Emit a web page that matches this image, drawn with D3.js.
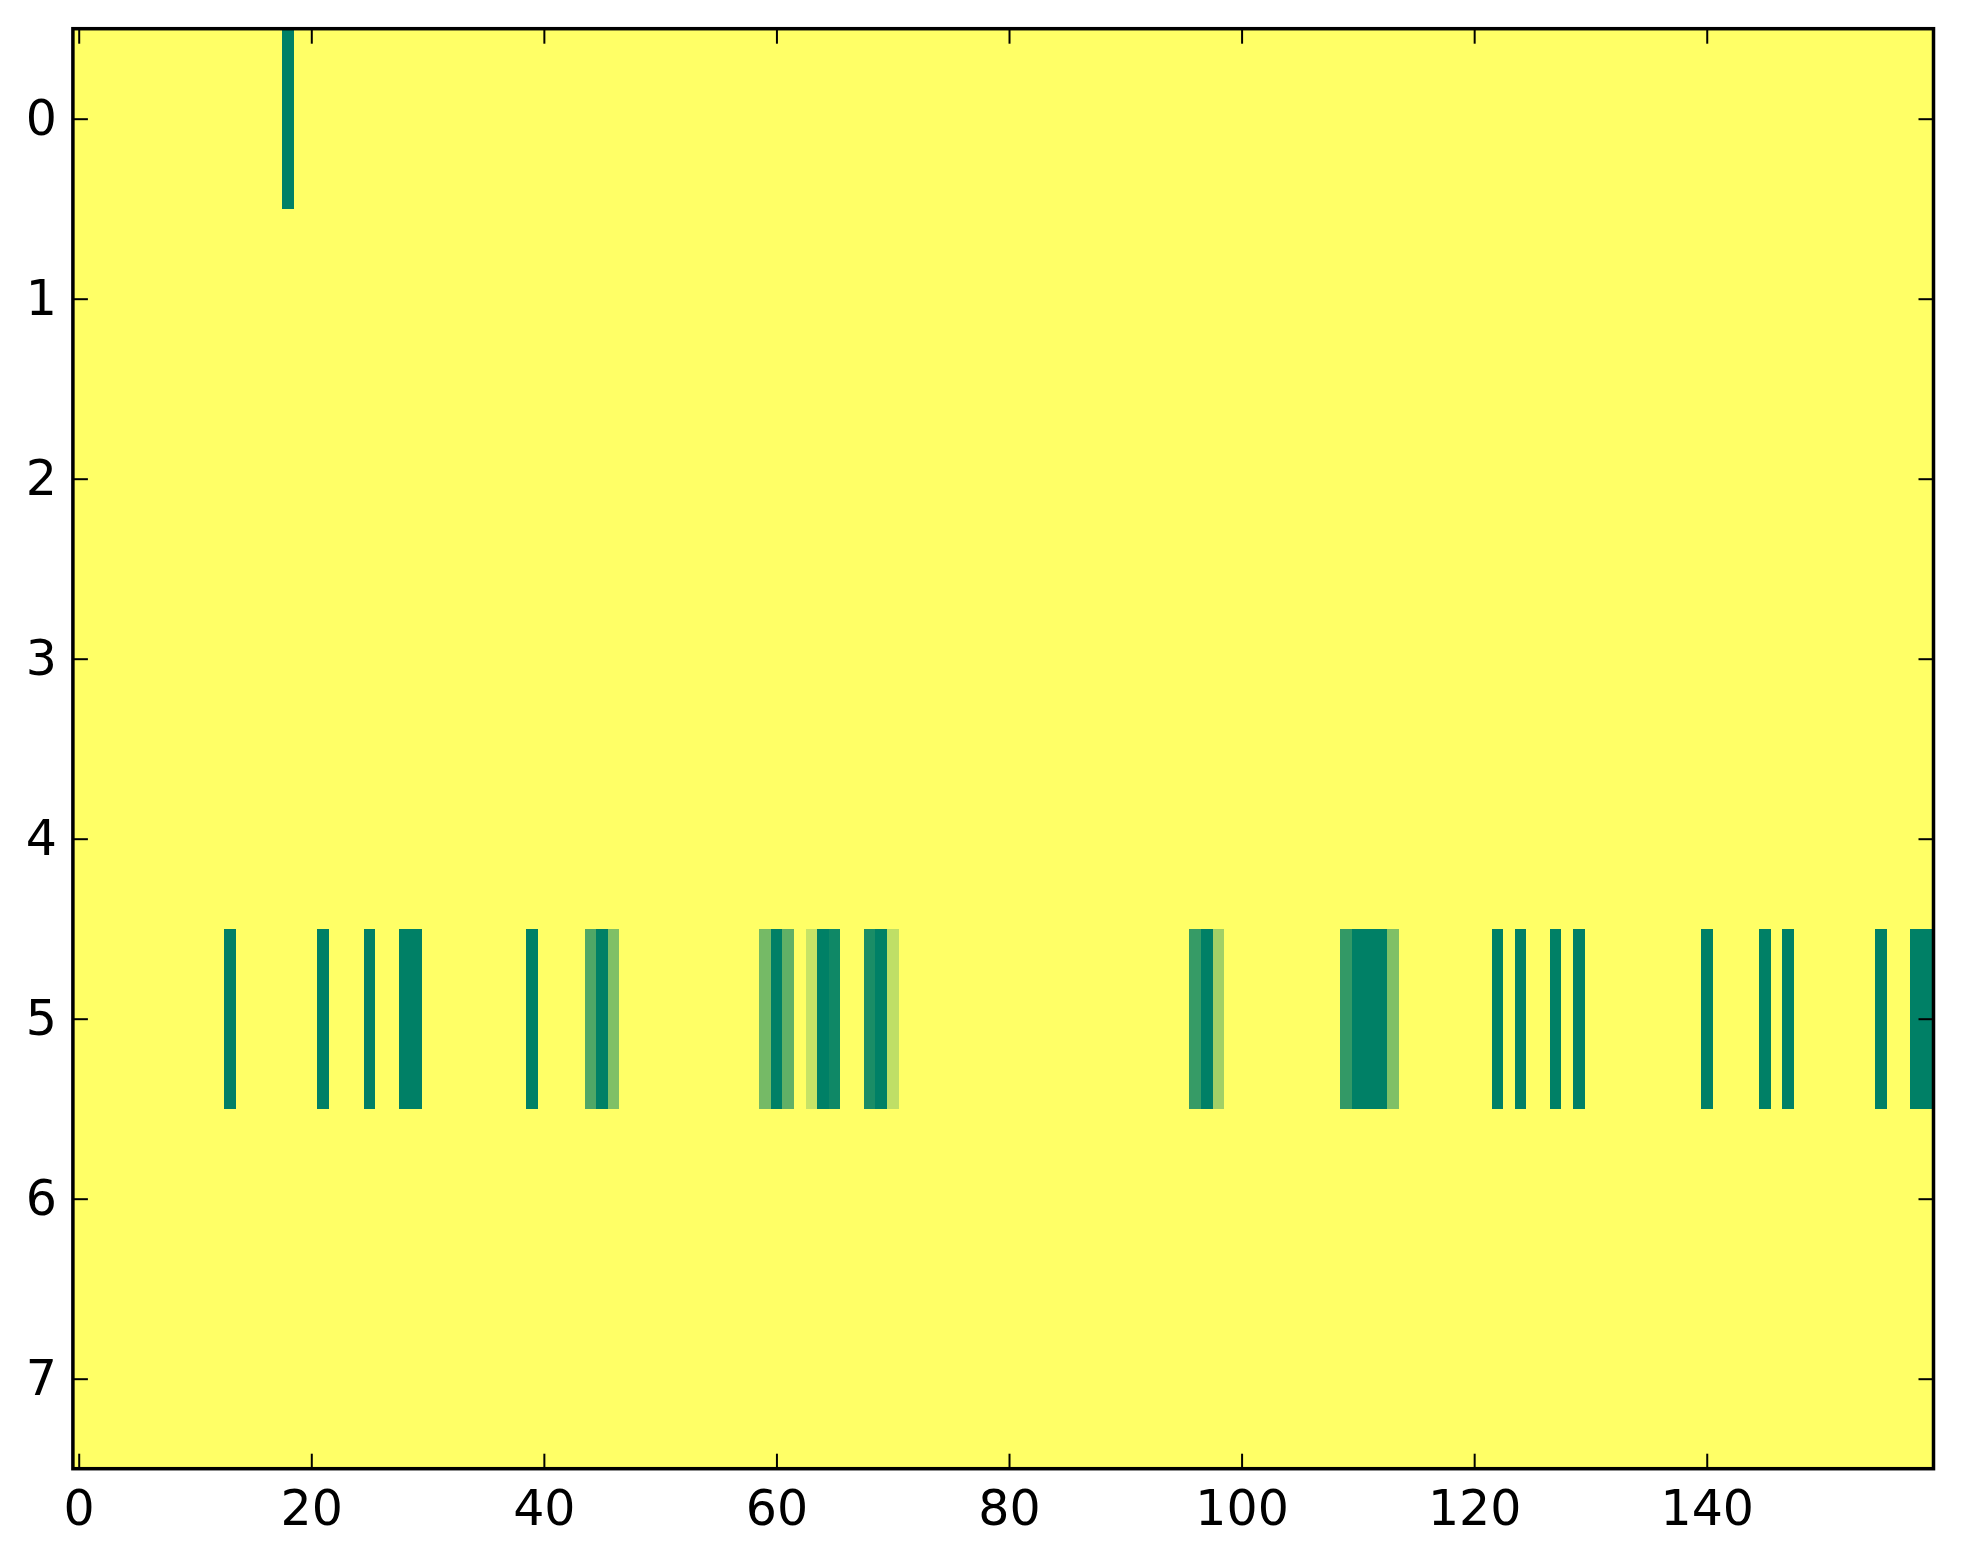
<!DOCTYPE html>
<html>
<head>
<meta charset="utf-8">
<script src="https://d3js.org/d3.v7.min.js"></script>
<style>
  body { margin: 0; background: #ffffff; }
  svg { display: block; }
</style>
</head>
<body>
<svg width="1963" height="1564"></svg>
<script>

var nRows = 8;
var nCols = 160;

// non-zero cells (everything else is 0)
var cellRows = [
  0,
  5, 5, 5, 5, 5, 5,
  5, 5, 5,
  5, 5, 5, 5, 5, 5, 5, 5, 5,
  5, 5, 5,
  5, 5, 5, 5, 5,
  5, 5, 5, 5, 5,
  5, 5, 5, 5, 5
];
var cellCols = [
  18,
  13, 21, 25, 28, 29, 39,
  44, 45, 46,
  59, 60, 61, 63, 64, 65, 68, 69, 70,
  96, 97, 98,
  109, 110, 111, 112, 113,
  122, 124, 127, 129, 140,
  145, 147, 155, 158, 159
];
var cellValues = [
  1.0,
  1.0, 1.0, 1.0, 1.0, 1.0, 1.0,
  0.69, 1.0, 0.5,
  0.54, 1.0, 0.62, 0.22, 1.0, 0.94, 0.9, 1.0, 0.25,
  0.79, 1.0, 0.37,
  0.8, 1.0, 1.0, 1.0, 0.5,
  1.0, 1.0, 1.0, 1.0, 1.0,
  1.0, 1.0, 1.0, 1.0, 1.0
];

var xTicks = [0, 20, 40, 60, 80, 100, 120, 140];
var yTicks = [0, 1, 2, 3, 4, 5, 6, 7];

var drawHeatmap = function() {
  let svg = d3.select("svg");

  // build the full grid, zero by default
  let cells = [];
  for (let r = 0; r < nRows; r++) {
    for (let c = 0; c < nCols; c++) {
      cells.push({row: r, col: c, value: 0});
    }
  }
  for (let i = 0; i < cellRows.length; i++) {
    cells[cellRows[i] * nCols + cellCols[i]].value = cellValues[i];
  }

  let left = 72.9, right = 1933.5, top = 28.7, bottom = 1468.7;

  let x = d3.scaleLinear().domain([-0.5, nCols - 0.5]).range([left, right]);
  let y = d3.scaleLinear().domain([-0.5, nRows - 0.5]).range([top, bottom]);

  // summer_r colormap: low = yellow, high = green
  let color = d3.scaleLinear().domain([0, 1]).range(["#ffff66", "#008066"]);

  svg.append("g")
    .selectAll("rect")
    .data(cells)
    .enter().append("rect")
    .attr("x", function(d) { return x(d.col - 0.5); })
    .attr("y", function(d) { return y(d.row - 0.5); })
    .attr("width", function(d) { return x(d.col + 0.5) - x(d.col - 0.5) + 0.4; })
    .attr("height", function(d) { return y(d.row + 0.5) - y(d.row - 0.5) + 0.4; })
    .style("fill", function(d) { return color(d.value); })
    .attr("shape-rendering", "crispEdges");

  let fontFamily = "'DejaVu Sans', sans-serif";

  let xAxis = d3.axisBottom(x).tickValues(xTicks).tickSizeInner(-15).tickSizeOuter(0).tickPadding(22);
  let xTop = d3.axisTop(x).tickValues(xTicks).tickSizeInner(-15).tickSizeOuter(0).tickFormat("");
  let yAxis = d3.axisLeft(y).tickValues(yTicks).tickSizeInner(-15).tickSizeOuter(0).tickPadding(16);
  let yRight = d3.axisRight(y).tickValues(yTicks).tickSizeInner(-15).tickSizeOuter(0).tickFormat("");

  let gx = svg.append("g").attr("transform", "translate(0," + bottom + ")").call(xAxis);
  let gxt = svg.append("g").attr("transform", "translate(0," + top + ")").call(xTop);
  let gy = svg.append("g").attr("transform", "translate(" + left + ",0)").call(yAxis);
  let gyr = svg.append("g").attr("transform", "translate(" + right + ",0)").call(yRight);

  [gx, gxt, gy, gyr].forEach(function(g) {
    g.select(".domain").remove();
    g.selectAll(".tick line").attr("stroke", "#000").attr("stroke-width", 2);
    g.selectAll("text")
      .style("font-family", fontFamily)
      .style("font-size", "49px")
      .attr("fill", "#000");
  });

  // frame
  svg.append("rect")
    .attr("x", left)
    .attr("y", top)
    .attr("width", right - left)
    .attr("height", bottom - top)
    .style("fill", "none")
    .style("stroke", "#000")
    .style("stroke-width", 3.5);
};

drawHeatmap();
</script>
</body>
</html>
